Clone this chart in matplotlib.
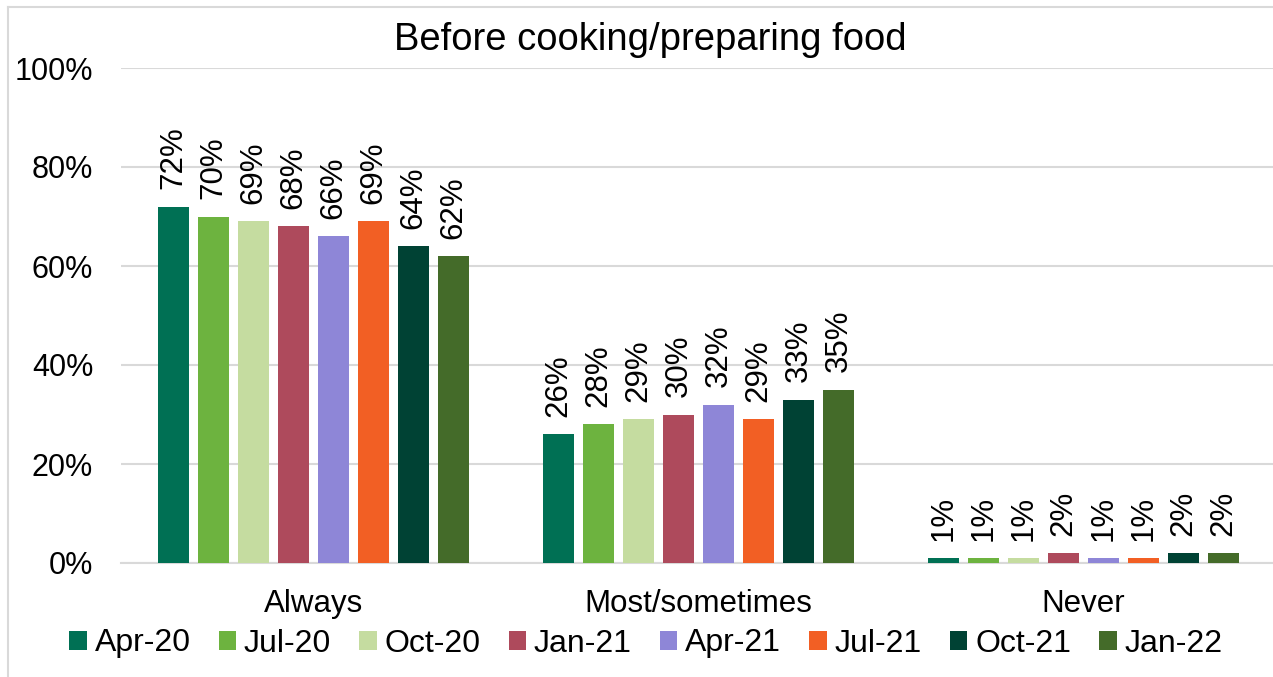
import numpy as np
import matplotlib.pyplot as plt
from matplotlib.lines import Line2D

plt.rcParams['font.family'] = ['Liberation Sans', 'DejaVu Sans']

categories = ["Always", "Most/sometimes", "Never"]
waves = ["Apr-20", "Jul-20", "Oct-20", "Jan-21", "Apr-21", "Jul-21", "Oct-21", "Jan-22"]
values = {
    "Apr-20": [72, 26, 1],
    "Jul-20": [70, 28, 1],
    "Oct-20": [69, 29, 1],
    "Jan-21": [68, 30, 2],
    "Apr-21": [66, 32, 1],
    "Jul-21": [69, 29, 1],
    "Oct-21": [64, 33, 2],
    "Jan-22": [62, 35, 2],
}
colors = ["#007054", "#6DB33F", "#C5DCA0", "#AE4A5C", "#8E86D7", "#F25F24", "#004234", "#446B29"]

W, H = 1273, 677
fig = plt.figure(figsize=(W / 100, H / 100), dpi=100)
ax = fig.add_axes([121 / W, 1 - 563 / H, (W - 121) / W, 495 / H])

x = np.arange(len(categories))
step = 0.1039
width = 0.0805
for i, w in enumerate(waves):
    pos = x + (i - 3.5) * step
    bars = ax.bar(pos, values[w], width, color=colors[i], label=w, zorder=3)
    for b, v in zip(bars, values[w]):
        ax.text(b.get_x() + b.get_width() / 2, v + 3.5, f"{v}%", rotation=90,
                ha="center", va="bottom", fontsize=22.5)

ax.set_xlim(-0.5, -0.5 + (W - 121) / 385)
ax.set_ylim(0, 100)
ax.set_yticks(range(0, 101, 20))
ax.set_yticklabels([f"{t}%" for t in range(0, 101, 20)], fontsize=22)
ax.set_xticks(x)
ax.set_xticklabels(categories, fontsize=22.5)
ax.tick_params(axis="both", length=0)
ax.tick_params(axis="x", pad=19)
ax.tick_params(axis="y", pad=20)
ax.grid(axis="y", color="#D9D9D9", linewidth=1.5, zorder=0)
for s in ["top", "right", "left"]:
    ax.spines[s].set_visible(False)
ax.spines["bottom"].set_color("#D9D9D9")
ax.spines["bottom"].set_linewidth(1.5)

fig.text(650 / W, 1 - 50 / H, "Before cooking/preparing food", ha="center", va="baseline", fontsize=27.5)

fig.legend(loc="center", bbox_to_anchor=(646 / W, 1 - 643.5 / H), ncol=8, fontsize=23,
           frameon=False, handlelength=0.54, handleheight=0.54, handletextpad=0.25,
           columnspacing=0.88, borderpad=0.1)

# chart frame: only top and left edges are visible in the crop
fig.add_artist(Line2D([8 / W, 8 / W], [0, 1 - 7 / H], transform=fig.transFigure,
                      color="#D9D9D9", linewidth=1.5))
fig.add_artist(Line2D([8 / W, 1], [1 - 7 / H, 1 - 7 / H], transform=fig.transFigure,
                      color="#D9D9D9", linewidth=1.5))

fig.savefig("out.png", dpi=100)
